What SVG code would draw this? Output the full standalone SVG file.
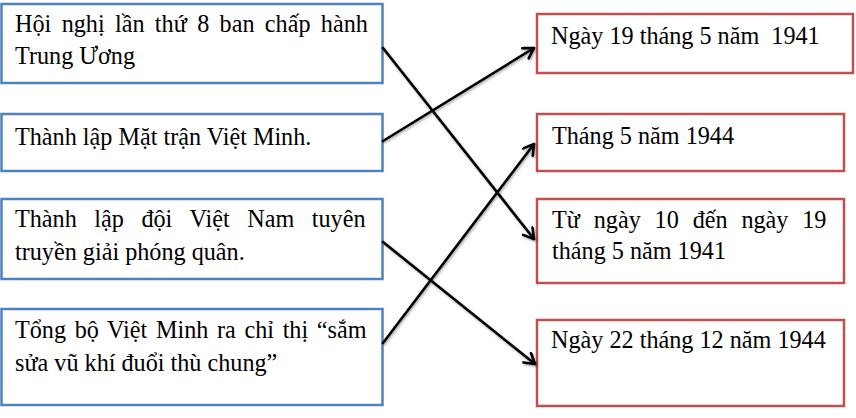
<svg xmlns="http://www.w3.org/2000/svg" width="856" height="418" viewBox="0 0 856 418">
<style>
.l{fill:#fff;stroke:#4F81BD;stroke-width:2.5}
.r{fill:#fff;stroke:#C0504D;stroke-width:2.5}
text{font-family:"Liberation Serif","Times New Roman","DejaVu Serif",serif;font-size:24.2px;fill:#000}
.c{stroke:#000;stroke-width:2.6;fill:none;stroke-linecap:round}
</style>
<defs>
<marker id="ah" markerUnits="userSpaceOnUse" markerWidth="16" markerHeight="16" refX="12" refY="7" orient="auto">
<path d="M2,1 L12,7 L2,13" fill="none" stroke="#000" stroke-width="2.6" stroke-linecap="round" stroke-linejoin="round"/>
</marker>
<filter id="sh" x="-10%" y="-10%" width="120%" height="120%">
<feDropShadow dx="1" dy="1.5" stdDeviation="1" flood-color="#000" flood-opacity="0.35"/>
</filter>
</defs>
<g id="n1"><rect class="l" x="1.5" y="4" width="381" height="79"/>
<text x="15" y="32" word-spacing="4.3">Hội nghị lần thứ 8 ban chấp hành</text>
<text x="15" y="64">Trung Ương</text></g>
<g id="n2"><rect class="l" x="1.5" y="114" width="381" height="57"/>
<text x="15" y="145">Thành lập Mặt trận Việt Minh.</text></g>
<g id="n3"><rect class="l" x="1.5" y="199" width="381" height="80"/>
<text x="15" y="227" word-spacing="11.5">Thành lập đội Việt Nam tuyên</text>
<text x="15" y="260">truyền giải phóng quân.</text></g>
<g id="n4"><rect class="l" x="1.5" y="309" width="381" height="96"/>
<text x="15" y="338" word-spacing="2.6">Tổng bộ Việt Minh ra chỉ thị “sắm</text>
<text x="15" y="371">sửa vũ khí đuổi thù chung”</text></g>
<g id="m1"><rect class="r" x="537" y="14" width="316" height="59"/>
<text x="551" y="44" xml:space="preserve">Ngày 19 tháng 5 năm  1941</text></g>
<g id="m2"><rect class="r" x="537" y="114" width="307" height="57"/>
<text x="552" y="144">Tháng 5 năm 1944</text></g>
<g id="m3"><rect class="r" x="537" y="199" width="307" height="84"/>
<text x="552" y="228" word-spacing="7.8">Từ ngày 10 đến ngày 19</text>
<text x="552" y="259">tháng 5 năm 1941</text></g>
<g id="m4"><rect class="r" x="537" y="320" width="307" height="86"/>
<text x="551" y="348">Ngày 22 tháng 12 năm 1944</text></g>
<g id="connectors" filter="url(#sh)">
<line class="c" x1="383" y1="48" x2="534" y2="239" marker-end="url(#ah)"/>
<line class="c" x1="383" y1="141" x2="534" y2="48" marker-end="url(#ah)"/>
<line class="c" x1="383" y1="242" x2="535" y2="364" marker-end="url(#ah)"/>
<line class="c" x1="383" y1="343" x2="534" y2="144" marker-end="url(#ah)"/>
</g>
</svg>
